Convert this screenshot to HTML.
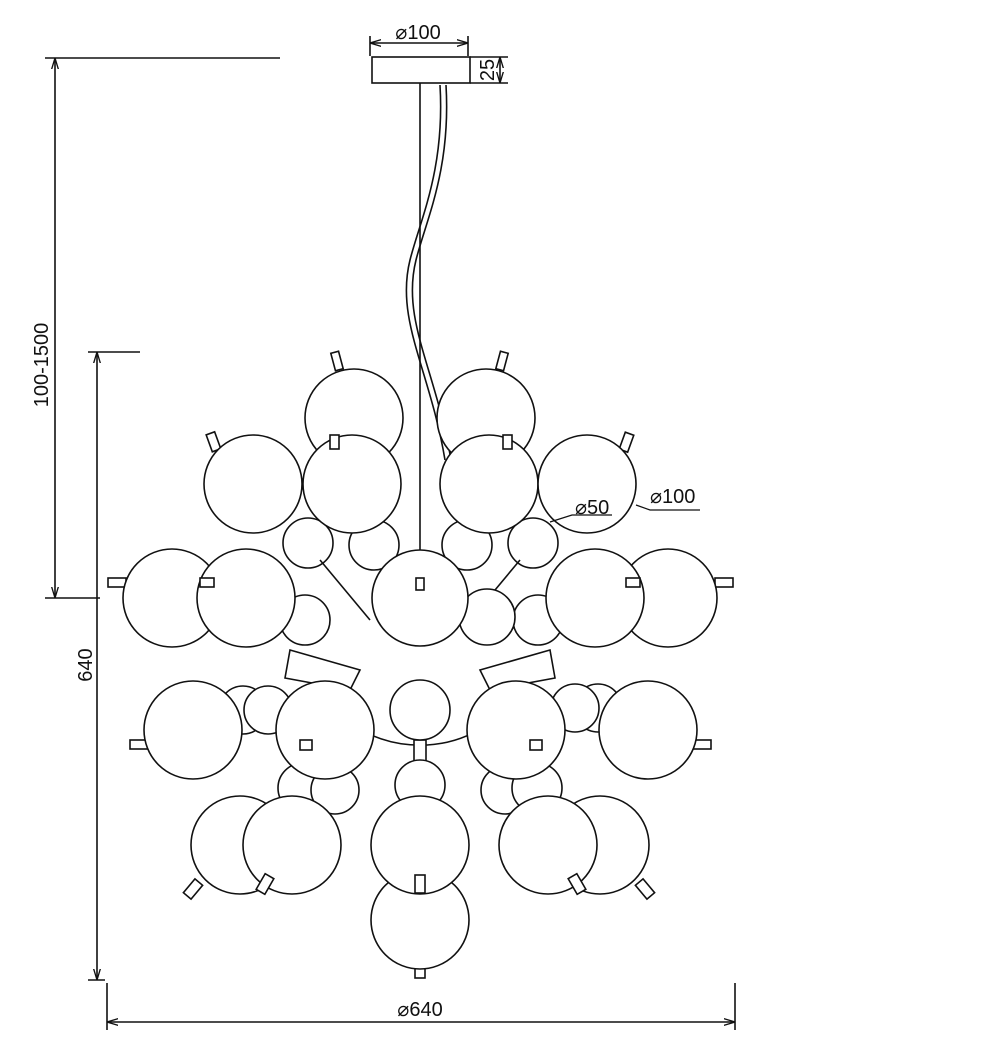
<!DOCTYPE html>
<html><head><meta charset="utf-8"><style>
html,body{margin:0;padding:0;background:#fff}
svg{display:block}
text{font-family:"Liberation Sans",sans-serif;fill:#111}
</style></head><body>
<svg width="1000" height="1046" viewBox="0 0 1000 1046" xmlns="http://www.w3.org/2000/svg">
<defs>
<marker id="a" viewBox="0 0 10 10" refX="10" refY="5" markerWidth="7" markerHeight="7" orient="auto-start-reverse"><path d="M0,2 L10,5 L0,8" fill="none" stroke="#111" stroke-width="1.2"/></marker>
</defs>
<g stroke="#111" stroke-width="1.6" fill="none">
<line x1="370" y1="43" x2="468" y2="43" marker-start="url(#a)" marker-end="url(#a)"/>
<line x1="370" y1="36" x2="370" y2="56"/><line x1="468" y1="36" x2="468" y2="56"/>
<rect x="372" y="57" width="98" height="26" fill="#fff"/>
<line x1="470" y1="57" x2="508" y2="57"/><line x1="470" y1="83" x2="508" y2="83"/>
<line x1="500" y1="57" x2="500" y2="83" marker-start="url(#a)" marker-end="url(#a)"/>
<line x1="45" y1="58" x2="280" y2="58"/><line x1="45" y1="598" x2="100" y2="598"/>
<line x1="55" y1="58" x2="55" y2="598" marker-start="url(#a)" marker-end="url(#a)"/>
<line x1="88" y1="352" x2="140" y2="352"/><line x1="88" y1="980" x2="105" y2="980"/>
<line x1="97" y1="352" x2="97" y2="980" marker-start="url(#a)" marker-end="url(#a)"/>
<line x1="107" y1="983" x2="107" y2="1030"/><line x1="735" y1="983" x2="735" y2="1030"/>
<line x1="107" y1="1022" x2="735" y2="1022" marker-start="url(#a)" marker-end="url(#a)"/>
<line x1="420" y1="83" x2="420" y2="560"/>
<path d="M440,85 C445,170 420,220 410,260 C395,320 430,370 445,460"/>
<path d="M446,85 C451,170 426,220 416,260 C401,320 436,370 451,460"/>
</g>
<g stroke="#111" stroke-width="1.6" fill="#fff">
<rect x="333" y="352" width="8" height="18" transform="rotate(-15 337 361)"/>
<rect x="498" y="352" width="8" height="18" transform="rotate(15 502 361)"/>
<circle cx="354" cy="418" r="49"/><circle cx="486" cy="418" r="49"/>
<circle cx="308" cy="543" r="25"/><circle cx="374" cy="545" r="25"/>
<circle cx="467" cy="545" r="25"/><circle cx="533" cy="543" r="25"/>
<line x1="320" y1="560" x2="370" y2="620"/><line x1="520" y1="560" x2="470" y2="620"/>
<circle cx="305" cy="620" r="25"/><circle cx="538" cy="620" r="25"/>
<path d="M290,650 L360,670 L350,690 L285,678 Z"/><path d="M550,650 L480,670 L490,690 L555,678 Z"/>
<circle cx="243" cy="710" r="24"/><circle cx="268" cy="710" r="24"/>
<circle cx="598" cy="708" r="24"/><circle cx="575" cy="708" r="24"/>
<path d="M330,700 A100,80 0 0 0 510,700"/>
<circle cx="303" cy="788" r="25"/><circle cx="335" cy="790" r="24"/>
<circle cx="505" cy="790" r="24"/><circle cx="537" cy="788" r="25"/>
<rect x="414" y="740" width="12" height="30"/>
<circle cx="420" cy="785" r="25"/>
<rect x="209" y="433" width="9" height="18" transform="rotate(-20 213 442)"/>
<rect x="622" y="433" width="9" height="18" transform="rotate(20 626 442)"/>
<circle cx="253" cy="484" r="49"/><circle cx="352" cy="484" r="49"/>
<circle cx="489" cy="484" r="49"/><circle cx="587" cy="484" r="49"/>
<rect x="330" y="435" width="9" height="14"/><rect x="503" y="435" width="9" height="14"/>
<rect x="108" y="578" width="18" height="9"/><rect x="715" y="578" width="18" height="9"/>
<circle cx="172" cy="598" r="49"/><circle cx="668" cy="598" r="49"/>
<circle cx="246" cy="598" r="49"/><circle cx="595" cy="598" r="49"/>
<rect x="200" y="578" width="14" height="9"/><rect x="626" y="578" width="14" height="9"/>
<circle cx="487" cy="617" r="28"/>
<circle cx="420" cy="598" r="48"/>
<rect x="416" y="578" width="8" height="12"/>
<circle cx="420" cy="710" r="30"/>
<rect x="130" y="740" width="18" height="9"/><rect x="693" y="740" width="18" height="9"/>
<circle cx="193" cy="730" r="49"/><circle cx="648" cy="730" r="49"/>
<circle cx="325" cy="730" r="49"/><circle cx="516" cy="730" r="49"/>
<rect x="300" y="740" width="12" height="10"/><rect x="530" y="740" width="12" height="10"/>
<rect x="188" y="880" width="10" height="18" transform="rotate(40 193 889)"/>
<rect x="640" y="880" width="10" height="18" transform="rotate(-40 645 889)"/>
<circle cx="240" cy="845" r="49"/><circle cx="600" cy="845" r="49"/>
<circle cx="292" cy="845" r="49"/><circle cx="548" cy="845" r="49"/>
<rect x="415" y="958" width="10" height="20"/>
<circle cx="420" cy="920" r="49"/>
<circle cx="420" cy="845" r="49"/>
<rect x="415" y="875" width="10" height="18"/>
<rect x="260" y="875" width="10" height="18" transform="rotate(30 265 884)"/>
<rect x="572" y="875" width="10" height="18" transform="rotate(-30 577 884)"/>
</g>
<g stroke="#111" stroke-width="1.2" fill="none">
<polyline points="550,522 572,515 612,515"/>
<polyline points="636,505 650,510 700,510"/>
</g>
<text x="418" y="39" font-size="20" text-anchor="middle">⌀100</text>
<text x="0" y="0" font-size="20" text-anchor="middle" transform="translate(494,70) rotate(-90)">25</text>
<text x="0" y="0" font-size="20" text-anchor="middle" transform="translate(48,365) rotate(-90)">100-1500</text>
<text x="0" y="0" font-size="20" text-anchor="middle" transform="translate(92,665) rotate(-90)">640</text>
<text x="420" y="1016" font-size="20" text-anchor="middle">⌀640</text>
<text x="575" y="514" font-size="20">⌀50</text>
<text x="650" y="503" font-size="20">⌀100</text>
</svg>
</body></html>
